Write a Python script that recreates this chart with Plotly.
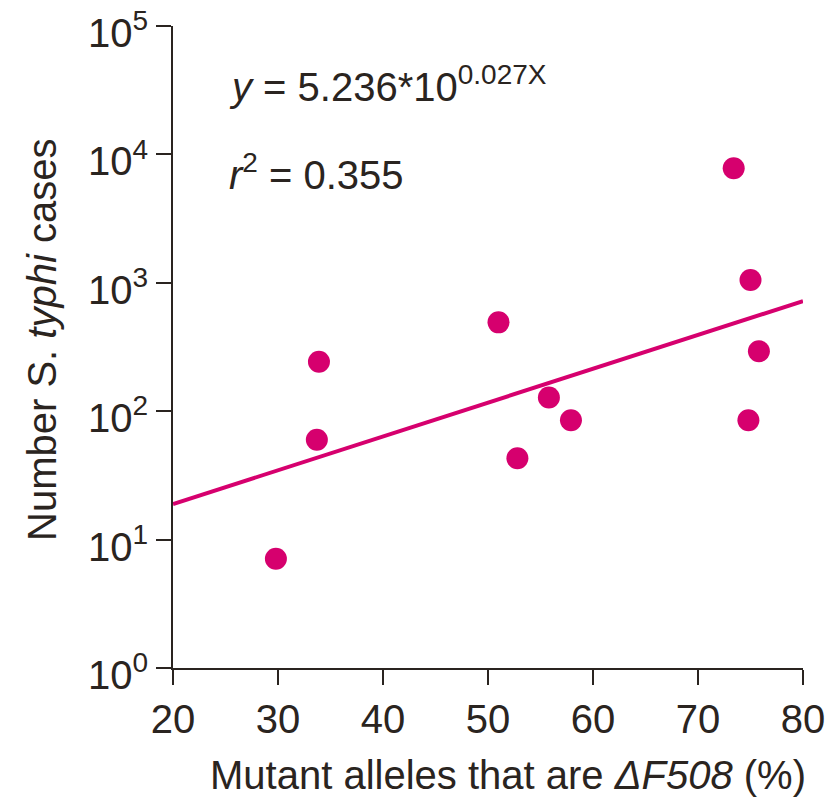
import plotly.graph_objects as go

# Data
mutant_pct = [29.8, 33.7, 33.9, 51.0, 52.8, 55.8, 57.9, 73.4, 75.0, 75.8, 74.8]
cases = [7.1, 60, 243, 492, 43, 128, 85, 7800, 1050, 293, 85]

fit_x = [20, 80]
fit_y = [18.9, 720]

y_tickvals = [1, 10, 100, 1000, 10000, 100000]
y_ticktext = ["10<sup>0</sup>", "10<sup>1</sup>", "10<sup>2</sup>",
              "10<sup>3</sup>", "10<sup>4</sup>", "10<sup>5</sup>"]
x_tickvals = [20, 30, 40, 50, 60, 70, 80]

MAGENTA = "#d6006e"
INK = "#2a2420"
FONT = "Liberation Sans"
FS = 40

# page body has an 8px margin; work in page pixels and convert
OFF = 8
W, H = 840 - OFF, 800 - OFF
L, R, T, B = 173 - OFF, 840 - 803, 26 - OFF, 800 - 668
PW, PH = W - L - R, H - T - B


def px_x(px):
    return (px - OFF - L) / PW


def px_y(py):
    return (H - B - (py - OFF)) / PH


fig = go.Figure()
fig.add_trace(go.Scatter(x=fit_x, y=fit_y, mode="lines",
                         line=dict(color=MAGENTA, width=4), hoverinfo="skip",
                         showlegend=False))
fig.add_trace(go.Scatter(x=mutant_pct, y=cases, mode="markers",
                         marker=dict(color=MAGENTA, size=22, line=dict(width=0)),
                         showlegend=False))

fig.update_layout(
    width=W, height=H,
    margin=dict(l=L, r=R, t=T, b=B, autoexpand=False),
    paper_bgcolor="white", plot_bgcolor="white",
    font=dict(family=FONT, color=INK, size=FS),
    xaxis=dict(range=[20, 80], tickvals=x_tickvals, ticks="outside", ticklen=15,
               tickwidth=2, tickcolor=INK, showline=True, linecolor=INK, linewidth=2,
               showgrid=False, zeroline=False, tickfont=dict(size=FS),
               automargin=False, ticklabeloverflow="allow"),
    yaxis=dict(type="log", range=[0, 5.0002], tickvals=y_tickvals, ticktext=y_ticktext,
               ticks="outside", ticklen=15, tickwidth=2, tickcolor=INK,
               showline=True, linecolor=INK, linewidth=2, showgrid=False,
               zeroline=False, tickfont=dict(size=FS), automargin=False,
               ticklabeloverflow="allow", ticklabelshift=7),
    annotations=[
        dict(text="<i>y</i> = 5.236*10<sup>0.027X</sup>", xref="paper", yref="paper",
             x=px_x(227), y=px_y(84), xanchor="left", yanchor="middle",
             showarrow=False, font=dict(size=FS, family=FONT, color=INK)),
        dict(text="<i>r</i><sup>2</sup> = 0.355", xref="paper", yref="paper",
             x=px_x(227), y=px_y(172), xanchor="left", yanchor="middle",
             showarrow=False, font=dict(size=FS, family=FONT, color=INK)),
        dict(text="Mutant alleles that are <i>ΔF508</i> (%)", xref="paper",
             yref="paper", x=px_x(508), y=px_y(775), xanchor="center",
             yanchor="middle", showarrow=False,
             font=dict(size=FS, family=FONT, color=INK)),
        dict(text="Number S. <i>typhi</i> cases", xref="paper", yref="paper",
             x=px_x(42), y=px_y(340), xanchor="center", yanchor="middle",
             textangle=-90, showarrow=False,
             font=dict(size=FS, family=FONT, color=INK)),
    ],
)

fig.write_html("out.html")
